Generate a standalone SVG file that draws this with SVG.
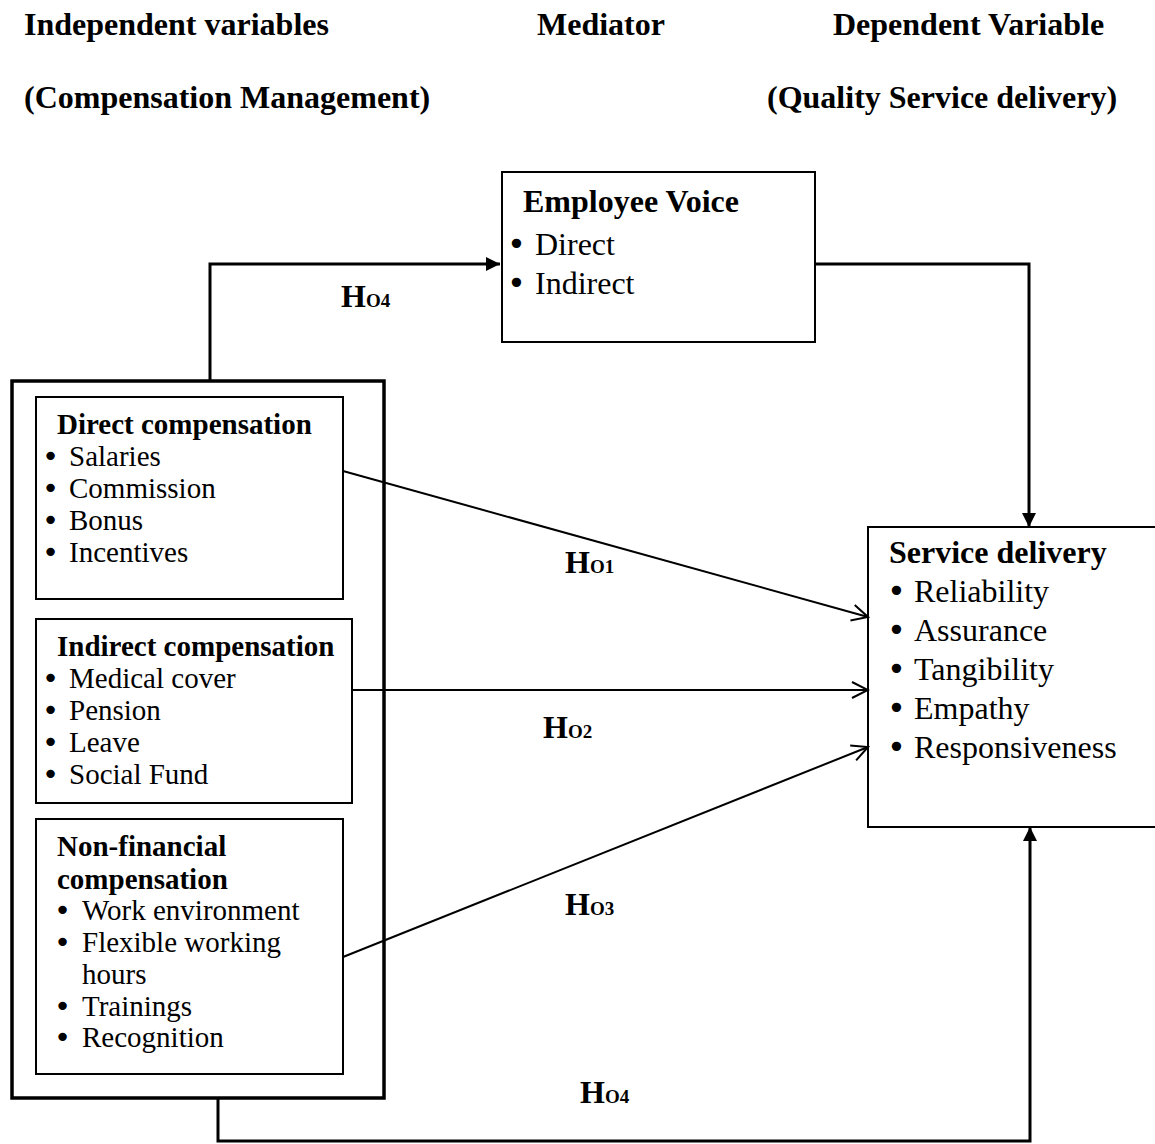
<svg xmlns="http://www.w3.org/2000/svg" width="1155" height="1144" viewBox="0 0 1155 1144">
<style>
text{font-family:'Liberation Serif','Times New Roman',serif;fill:#000}
.h{font-size:32px;font-weight:bold}
.b29{font-size:29px;font-weight:bold}
.r29{font-size:29px}
.b32{font-size:32px;font-weight:bold}
.r32{font-size:32px}
.bu{font-family:'DejaVu Sans',sans-serif}
.sub{font-size:19px}
.box{fill:#fff;stroke:#000;stroke-width:2}
.outer{fill:#fff;stroke:#000;stroke-width:3.5}
.thick{fill:none;stroke:#000;stroke-width:3}
.thin{fill:none;stroke:#000;stroke-width:2}
</style>
<defs>
<marker id="af" viewBox="0 0 10 10" refX="10" refY="5" markerWidth="16" markerHeight="14" markerUnits="userSpaceOnUse" orient="auto"><path d="M0,0 L10,5 L0,10z" fill="#000"/></marker>
<marker id="ao" viewBox="0 0 20 20" refX="18" refY="10" markerWidth="20" markerHeight="20" markerUnits="userSpaceOnUse" orient="auto"><path d="M2,2 L18,10 L2,18" fill="none" stroke="#000" stroke-width="2"/></marker>
</defs>
<rect width="1155" height="1144" fill="#fff"/>
<g id="headers">
<text class="h" x="24" y="35">Independent variables</text>
<text class="h" x="537" y="35">Mediator</text>
<text class="h" x="833" y="35">Dependent Variable</text>
<text class="h" x="24" y="108">(Compensation Management)</text>
<text class="h" x="767" y="108">(Quality Service delivery)</text>
</g>
<g id="employee-voice">
<rect class="box" x="502" y="172" width="313" height="170"/>
<text class="b32" x="523" y="212">Employee Voice</text>
<text class="r32" x="507" y="255"><tspan class="bu">•</tspan><tspan x="535">Direct</tspan></text>
<text class="r32" x="507" y="294"><tspan class="bu">•</tspan><tspan x="535">Indirect</tspan></text>
</g>
<g id="compensation-management">
<rect class="outer" x="12" y="381" width="372" height="717"/>
</g>
<g id="direct-compensation">
<rect class="box" x="36" y="397" width="307" height="202"/>
<text class="b29" x="57" y="434">Direct compensation</text>
<text class="r29" x="42" y="466"><tspan class="bu">•</tspan><tspan x="69">Salaries</tspan></text>
<text class="r29" x="42" y="498"><tspan class="bu">•</tspan><tspan x="69">Commission</tspan></text>
<text class="r29" x="42" y="530"><tspan class="bu">•</tspan><tspan x="69">Bonus</tspan></text>
<text class="r29" x="42" y="562"><tspan class="bu">•</tspan><tspan x="69">Incentives</tspan></text>
</g>
<g id="indirect-compensation">
<rect class="box" x="36" y="619" width="316" height="184"/>
<text class="b29" x="57" y="656">Indirect compensation</text>
<text class="r29" x="42" y="688"><tspan class="bu">•</tspan><tspan x="69">Medical cover</tspan></text>
<text class="r29" x="42" y="720"><tspan class="bu">•</tspan><tspan x="69">Pension</tspan></text>
<text class="r29" x="42" y="752"><tspan class="bu">•</tspan><tspan x="69">Leave</tspan></text>
<text class="r29" x="42" y="784"><tspan class="bu">•</tspan><tspan x="69">Social Fund</tspan></text>
</g>
<g id="non-financial-compensation">
<rect class="box" x="36" y="819" width="307" height="255"/>
<text class="b29" x="57" y="856">Non-financial</text>
<text class="b29" x="57" y="889">compensation</text>
<text class="r29" x="54" y="920"><tspan class="bu">•</tspan><tspan x="82">Work environment</tspan></text>
<text class="r29" x="54" y="952"><tspan class="bu">•</tspan><tspan x="82">Flexible working</tspan></text>
<text class="r29" x="82" y="984">hours</text>
<text class="r29" x="54" y="1016"><tspan class="bu">•</tspan><tspan x="82">Trainings</tspan></text>
<text class="r29" x="54" y="1047"><tspan class="bu">•</tspan><tspan x="82">Recognition</tspan></text>
</g>
<g id="service-delivery">
<rect class="box" x="868" y="527" width="300" height="300"/>
<text class="b32" x="889" y="563">Service delivery</text>
<text class="r32" x="887" y="602"><tspan class="bu">•</tspan><tspan x="914">Reliability</tspan></text>
<text class="r32" x="887" y="641"><tspan class="bu">•</tspan><tspan x="914">Assurance</tspan></text>
<text class="r32" x="887" y="680"><tspan class="bu">•</tspan><tspan x="914">Tangibility</tspan></text>
<text class="r32" x="887" y="719"><tspan class="bu">•</tspan><tspan x="914">Empathy</tspan></text>
<text class="r32" x="887" y="758"><tspan class="bu">•</tspan><tspan x="914">Responsiveness</tspan></text>
</g>
<g id="connectors">
<path class="thick" d="M210,381 V264 H500" marker-end="url(#af)"/>
<path class="thick" d="M815,264 H1029 V527" marker-end="url(#af)"/>
<path class="thick" d="M218,1098 V1141 H1030 V827" marker-end="url(#af)"/>
<path class="thin" d="M343,471 L868,617" marker-end="url(#ao)"/>
<path class="thin" d="M352,690 L868,690" marker-end="url(#ao)"/>
<path class="thin" d="M343,957 L868,747" marker-end="url(#ao)"/>
<text class="b32" x="341" y="307">H<tspan class="sub">O4</tspan></text>
<text class="b32" x="565" y="573">H<tspan class="sub">O1</tspan></text>
<text class="b32" x="543" y="738">H<tspan class="sub">O2</tspan></text>
<text class="b32" x="565" y="915">H<tspan class="sub">O3</tspan></text>
<text class="b32" x="580" y="1103">H<tspan class="sub">O4</tspan></text>
</g>
</svg>
